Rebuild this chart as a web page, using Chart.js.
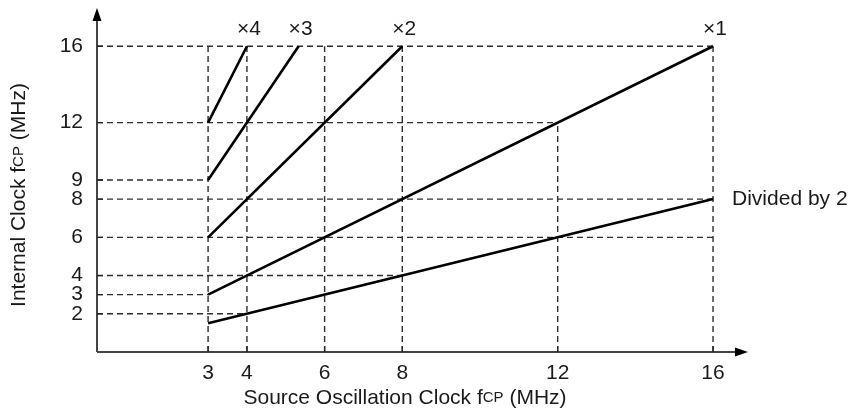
<!DOCTYPE html>
<html>
<head>
<meta charset="utf-8">
<title>Internal Clock vs Source Oscillation Clock</title>
<script src="https://cdn.jsdelivr.net/npm/chart.js@4.4.1/dist/chart.umd.min.js"></script>
<style>
  html, body { margin: 0; padding: 0; background: #fff; }
  #wrap { width: 851px; height: 413px; }
</style>
</head>
<body>
<div id="wrap"><canvas id="clockChart" width="851" height="413"></canvas></div>
<script>
// --- data ---------------------------------------------------------------
const X_TICKS = [3, 4, 6, 8, 12, 16];
const Y_TICKS = [2, 3, 4, 6, 8, 9, 12, 16];

const SERIES_LABELS = ['×1', '×2', '×3', '×4', 'Divided by 2'];
const SERIES_X = [[3, 16], [3, 8], [3, 5.33], [3, 4], [3, 16]];
const SERIES_Y = [[3, 16], [6, 16], [9, 16], [12, 16], [1.5, 8]];

// dashed guides: horizontal line at y reaching to x, vertical line at x reaching to y
const H_GUIDE_Y  = [16, 12, 9, 8, 6, 4, 3, 2];
const H_GUIDE_TO = [16, 12, 3, 16, 16, 8, 3, 4];
const V_GUIDE_X  = [3, 4, 6, 8, 12, 16];
const V_GUIDE_TO = [16, 16, 16, 16, 12, 16];

const X_MIN = 0.14, X_MAX = 16.9;
const Y_MIN = 0, Y_MAX = 18;

const FONT = '"Liberation Sans", Arial, Helvetica, sans-serif';
const FS = 21;
const TEXT = '#1a1a1a';

// --- datasets -------------------------------------------------------------
const seriesSets = SERIES_LABELS.map((label, i) => ({
  label,
  data: SERIES_X[i].map((x, j) => ({ x, y: SERIES_Y[i][j] })),
  borderColor: '#000',
  borderWidth: 2.6,
  pointRadius: 0,
  order: 0,
}));

const guideStyle = { borderColor: '#2e2e2e', borderWidth: 1.4, borderDash: [6, 4], pointRadius: 0, order: 1 };
const hGuides = H_GUIDE_Y.map((y, i) => ({
  label: 'h' + y,
  data: [{ x: X_MIN, y }, { x: H_GUIDE_TO[i], y }],
  ...guideStyle,
}));
const vGuides = V_GUIDE_X.map((x, i) => ({
  label: 'v' + x,
  data: [{ x, y: Y_MIN }, { x, y: V_GUIDE_TO[i] }],
  ...guideStyle,
}));

// draw "f" + small "CP" like the printed figure
function mixedText(ctx, parts) {
  let w = 0;
  parts.forEach(p => { ctx.font = `${p.size}px ${FONT}`; p.w = ctx.measureText(p.t).width; w += p.w; });
  let x = -w / 2;
  parts.forEach(p => { ctx.font = `${p.size}px ${FONT}`; ctx.fillText(p.t, x, 0); x += p.w; });
}
const titleParts = (a) => [{ t: a, size: FS }, { t: 'CP', size: 15 }, { t: ' (MHz)', size: FS }];

const decor = {
  id: 'decor',
  afterDraw(chart) {
    const { ctx, chartArea: ca, scales: { x, y } } = chart;
    ctx.save();

    // axes with arrow heads
    ctx.strokeStyle = '#444';
    ctx.fillStyle = '#000';
    ctx.lineWidth = 2;
    ctx.beginPath();
    ctx.moveTo(ca.left, ca.bottom); ctx.lineTo(ca.right - 10, ca.bottom);
    ctx.moveTo(ca.left, ca.bottom); ctx.lineTo(ca.left, ca.top + 10);
    ctx.stroke();
    ctx.beginPath();
    ctx.moveTo(ca.right, ca.bottom); ctx.lineTo(ca.right - 13, ca.bottom - 4.5); ctx.lineTo(ca.right - 13, ca.bottom + 4.5);
    ctx.closePath(); ctx.fill();
    ctx.beginPath();
    ctx.moveTo(ca.left, ca.top); ctx.lineTo(ca.left - 4.5, ca.top + 13); ctx.lineTo(ca.left + 4.5, ca.top + 13);
    ctx.closePath(); ctx.fill();

    // short inner tick marks
    ctx.strokeStyle = '#222';
    ctx.lineWidth = 1.3;
    ctx.beginPath();
    X_TICKS.forEach(v => { const px = x.getPixelForValue(v); ctx.moveTo(px, ca.bottom); ctx.lineTo(px, ca.bottom - 6); });
    Y_TICKS.forEach(v => { const py = y.getPixelForValue(v); ctx.moveTo(ca.left, py); ctx.lineTo(ca.left + 6, py); });
    ctx.stroke();

    // series labels at line ends
    ctx.fillStyle = TEXT;
    ctx.font = `${FS}px ${FONT}`;
    ctx.textBaseline = 'middle';
    SERIES_LABELS.forEach((lab, i) => {
      const ex = x.getPixelForValue(SERIES_X[i][1]);
      const ey = y.getPixelForValue(SERIES_Y[i][1]);
      if (lab.startsWith('×')) {
        ctx.textAlign = 'center';
        ctx.fillText(lab, ex + 2, ey - 17);
      } else {
        ctx.textAlign = 'left';
        ctx.fillText(lab, ex + 19, ey);
      }
    });

    // axis titles
    ctx.textAlign = 'left';
    ctx.textBaseline = 'middle';
    ctx.save();
    ctx.translate((ca.left + x.getPixelForValue(16)) / 2, 398);
    mixedText(ctx, titleParts('Source Oscillation Clock f'));
    ctx.restore();
    ctx.save();
    ctx.translate(19, 195);
    ctx.rotate(-Math.PI / 2);
    mixedText(ctx, titleParts('Internal Clock f'));
    ctx.restore();

    ctx.restore();
  }
};

const noPad = (s) => { s.paddingTop = s.paddingBottom = s.paddingLeft = s.paddingRight = 0; };

new Chart(document.getElementById('clockChart'), {
  type: 'line',
  data: { datasets: [...seriesSets, ...hGuides, ...vGuides] },
  options: {
    responsive: false,
    animation: false,
    events: [],
    layout: { padding: { top: 8, right: 103, left: 0, bottom: 0 } },
    plugins: { legend: { display: false }, tooltip: { enabled: false } },
    elements: { line: { tension: 0, borderCapStyle: 'butt' } },
    scales: {
      x: {
        type: 'linear', min: X_MIN, max: X_MAX,
        afterBuildTicks: (s) => { s.ticks = X_TICKS.map(value => ({ value })); },
        afterFit: (s) => { s.height = 61; noPad(s); },
        grid: { display: false, drawTicks: false },
        border: { display: false },
        ticks: { color: TEXT, font: { family: FONT, size: FS }, padding: 9, maxRotation: 0, autoSkip: false },
      },
      y: {
        type: 'linear', min: Y_MIN, max: Y_MAX,
        afterBuildTicks: (s) => { s.ticks = Y_TICKS.map(value => ({ value })); },
        afterFit: (s) => { s.width = 97; noPad(s); },
        grid: { display: false, drawTicks: false },
        border: { display: false },
        ticks: { color: TEXT, font: { family: FONT, size: FS }, padding: 14, autoSkip: false },
      },
    },
  },
  plugins: [decor],
});
</script>
</body>
</html>
